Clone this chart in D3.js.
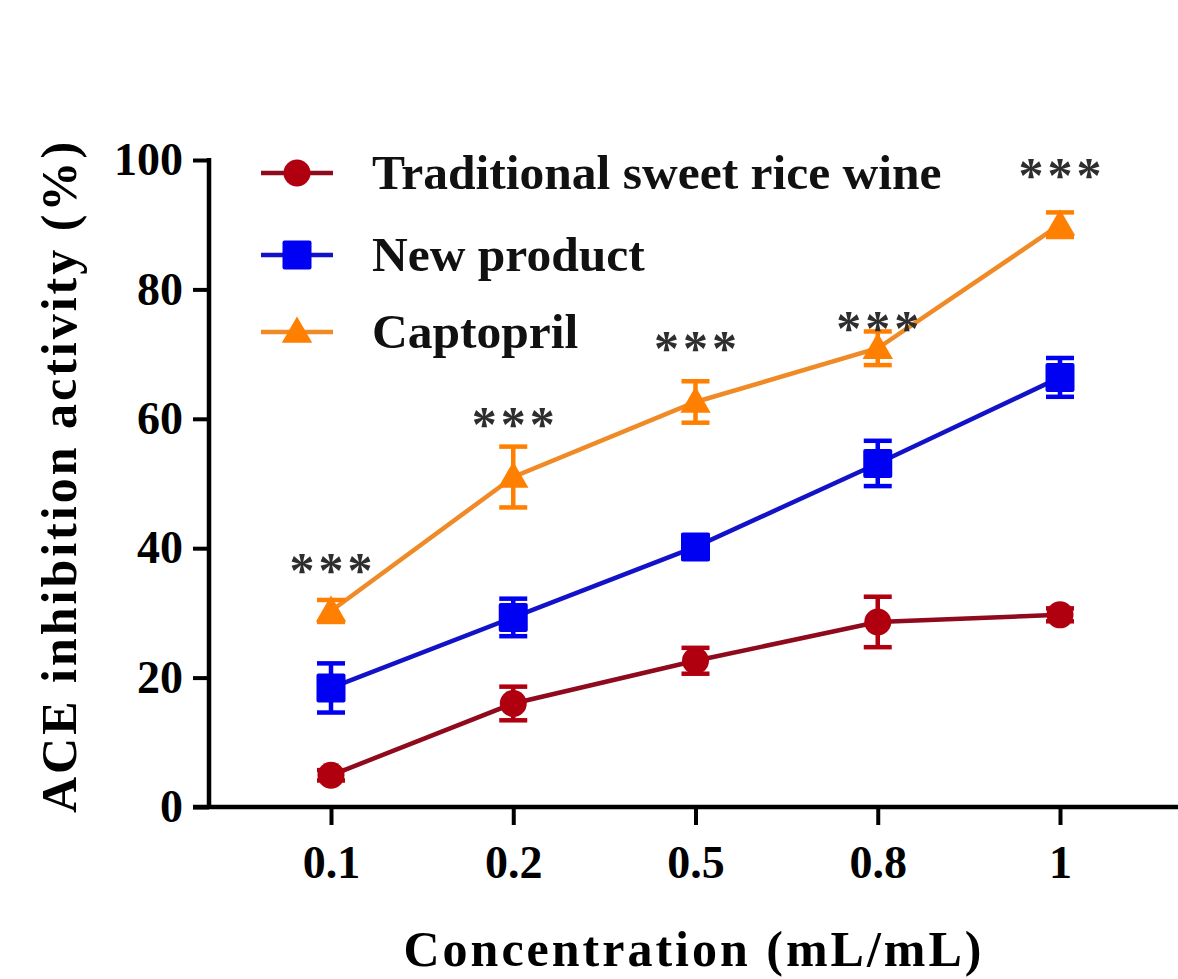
<!DOCTYPE html>
<html>
<head>
<meta charset="utf-8">
<script src="https://cdn.jsdelivr.net/npm/d3@7"></script>
<style>
  html, body { margin: 0; padding: 0; background: #fff; }
  svg { display: block; }
  text { font-family: "Liberation Serif", "DejaVu Serif", serif; font-weight: bold; }
</style>
</head>
<body>
<svg id="chart" width="1178" height="979"></svg>
<script>
// Concentrations tested (mL/mL)
const concentrations = ["0.1", "0.2", "0.5", "0.8", "1"];

// ACE inhibition activity (%) — means and standard deviations
const riceWineMean = [4.9, 16.0, 22.6, 28.6, 29.7];
const riceWineSD   = [0.8, 2.6, 2.0, 3.9, 1.0];
const newProductMean = [18.4, 29.3, 40.2, 53.1, 66.4];
const newProductSD   = [3.8, 2.9, 1.8, 3.5, 3.0];
const captoprilMean = [30.3, 51.0, 62.6, 70.9, 90.0];
const captoprilSD   = [1.7, 4.7, 3.2, 2.6, 1.9];

// Significance marks (height in % units) above each concentration
const sigLabels = ["***", "***", "***", "***", "***"];
const sigHeight = [37.8, 60.4, 72.2, 75.3, 98.9];

const yTicks = [0, 20, 40, 60, 80, 100];

const series = [
  { name: "Traditional sweet rice wine", mean: riceWineMean, sd: riceWineSD,
    line: "#8e0a1c", fill: "#b0000f", shape: "circle" },
  { name: "New product", mean: newProductMean, sd: newProductSD,
    line: "#1212c8", fill: "#0000f2", shape: "square" },
  { name: "Captopril", mean: captoprilMean, sd: captoprilSD,
    line: "#ef8a26", fill: "#ff7f00", shape: "triangle" }
];

const svg = d3.select("#chart");

const axisLeftX = 209, axisBottomY = 807, axisRightX = 1178;

const x = d3.scalePoint().domain(concentrations).range([331, 1060]);
const y = d3.scaleLinear().domain([0, 100]).range([axisBottomY, 160]);

// Marker drawing helper
function marker(g, shape, cx, cy, fill) {
  if (shape === "circle") {
    g.append("circle").attr("cx", cx).attr("cy", cy).attr("r", 13.5).attr("fill", fill);
  } else if (shape === "square") {
    g.append("rect").attr("x", cx - 14.5).attr("y", cy - 14.5).attr("width", 29).attr("height", 29)
      .attr("rx", 2).attr("fill", fill);
  } else {
    const sym = d3.symbol().type(d3.symbolTriangle).size(400);
    g.append("path").attr("d", sym()).attr("transform", `translate(${cx},${cy + 2})`).attr("fill", fill);
  }
}

// Series: lines, error bars, markers
const line = d3.line().x((d, i) => x(concentrations[i])).y(d => y(d));
series.forEach(s => {
  const g = svg.append("g");
  g.append("path").datum(s.mean).attr("d", line)
    .attr("fill", "none").attr("stroke", s.line).attr("stroke-width", 4.5);
  s.mean.forEach((m, i) => {
    const cx = x(concentrations[i]);
    const hi = y(m + s.sd[i]), lo = y(m - s.sd[i]);
    g.append("line").attr("x1", cx).attr("x2", cx).attr("y1", hi).attr("y2", lo)
      .attr("stroke", s.fill).attr("stroke-width", 4.5);
    [hi, lo].forEach(yy => g.append("line").attr("x1", cx - 14).attr("x2", cx + 14)
      .attr("y1", yy).attr("y2", yy).attr("stroke", s.fill).attr("stroke-width", 4.5));
    marker(g, s.shape, cx, y(m), s.fill);
  });
});

// Significance asterisks
svg.append("g").selectAll("text").data(sigLabels).join("text")
  .attr("x", (d, i) => x(concentrations[i]) + 2)
  .attr("y", (d, i) => y(sigHeight[i]) + 25)
  .attr("text-anchor", "middle")
  .attr("font-size", 50)
  .attr("letter-spacing", 4)
  .attr("fill", "#2e2e2e")
  .text(d => d);

// Y axis
const yAxis = d3.axisLeft(y).tickValues(yTicks).tickSize(16).tickPadding(10).tickSizeOuter(0);
const gy = svg.append("g").attr("transform", `translate(${axisLeftX},0)`).call(yAxis);
gy.select(".domain").remove();
gy.selectAll(".tick line").attr("stroke", "#000").attr("stroke-width", 4);
gy.selectAll(".tick text").attr("font-size", 46).attr("fill", "#000")
  .attr("font-family", "Liberation Serif").attr("font-weight", "bold");
svg.append("line").attr("x1", axisLeftX).attr("x2", axisLeftX)
  .attr("y1", y(100) - 2).attr("y2", axisBottomY + 2)
  .attr("stroke", "#000").attr("stroke-width", 4.5);

// X axis
const xAxis = d3.axisBottom(x).tickSize(18).tickPadding(20).tickSizeOuter(0);
const gx = svg.append("g").attr("transform", `translate(0,${axisBottomY})`).call(xAxis);
gx.select(".domain").remove();
gx.selectAll(".tick line").attr("stroke", "#000").attr("stroke-width", 4);
gx.selectAll(".tick text").attr("font-size", 46).attr("fill", "#000")
  .attr("font-family", "Liberation Serif").attr("font-weight", "bold");
svg.append("line").attr("x1", axisLeftX - 16).attr("x2", axisRightX)
  .attr("y1", axisBottomY).attr("y2", axisBottomY)
  .attr("stroke", "#000").attr("stroke-width", 4.5);

// Axis titles
svg.append("text")
  .attr("transform", `translate(76,476) rotate(-90)`)
  .attr("text-anchor", "middle")
  .attr("font-size", 50).attr("letter-spacing", 3)
  .text("ACE inhibition activity (%)");
svg.append("text")
  .attr("x", 694).attr("y", 966)
  .attr("text-anchor", "middle")
  .attr("font-size", 50).attr("letter-spacing", 3)
  .text("Concentration (mL/mL)");

// Legend
const legend = svg.append("g");
const legendY = [173, 255, 332];
series.forEach((s, i) => {
  const g = legend.append("g");
  g.append("line").attr("x1", 261).attr("x2", 333).attr("y1", legendY[i]).attr("y2", legendY[i])
    .attr("stroke", s.line).attr("stroke-width", 4.5);
  marker(g, s.shape, 297, legendY[i], s.fill);
  g.append("text").attr("x", 372).attr("y", legendY[i] + 16)
    .attr("font-size", 49.5).attr("fill", "#111").text(s.name);
});
</script>
</body>
</html>
